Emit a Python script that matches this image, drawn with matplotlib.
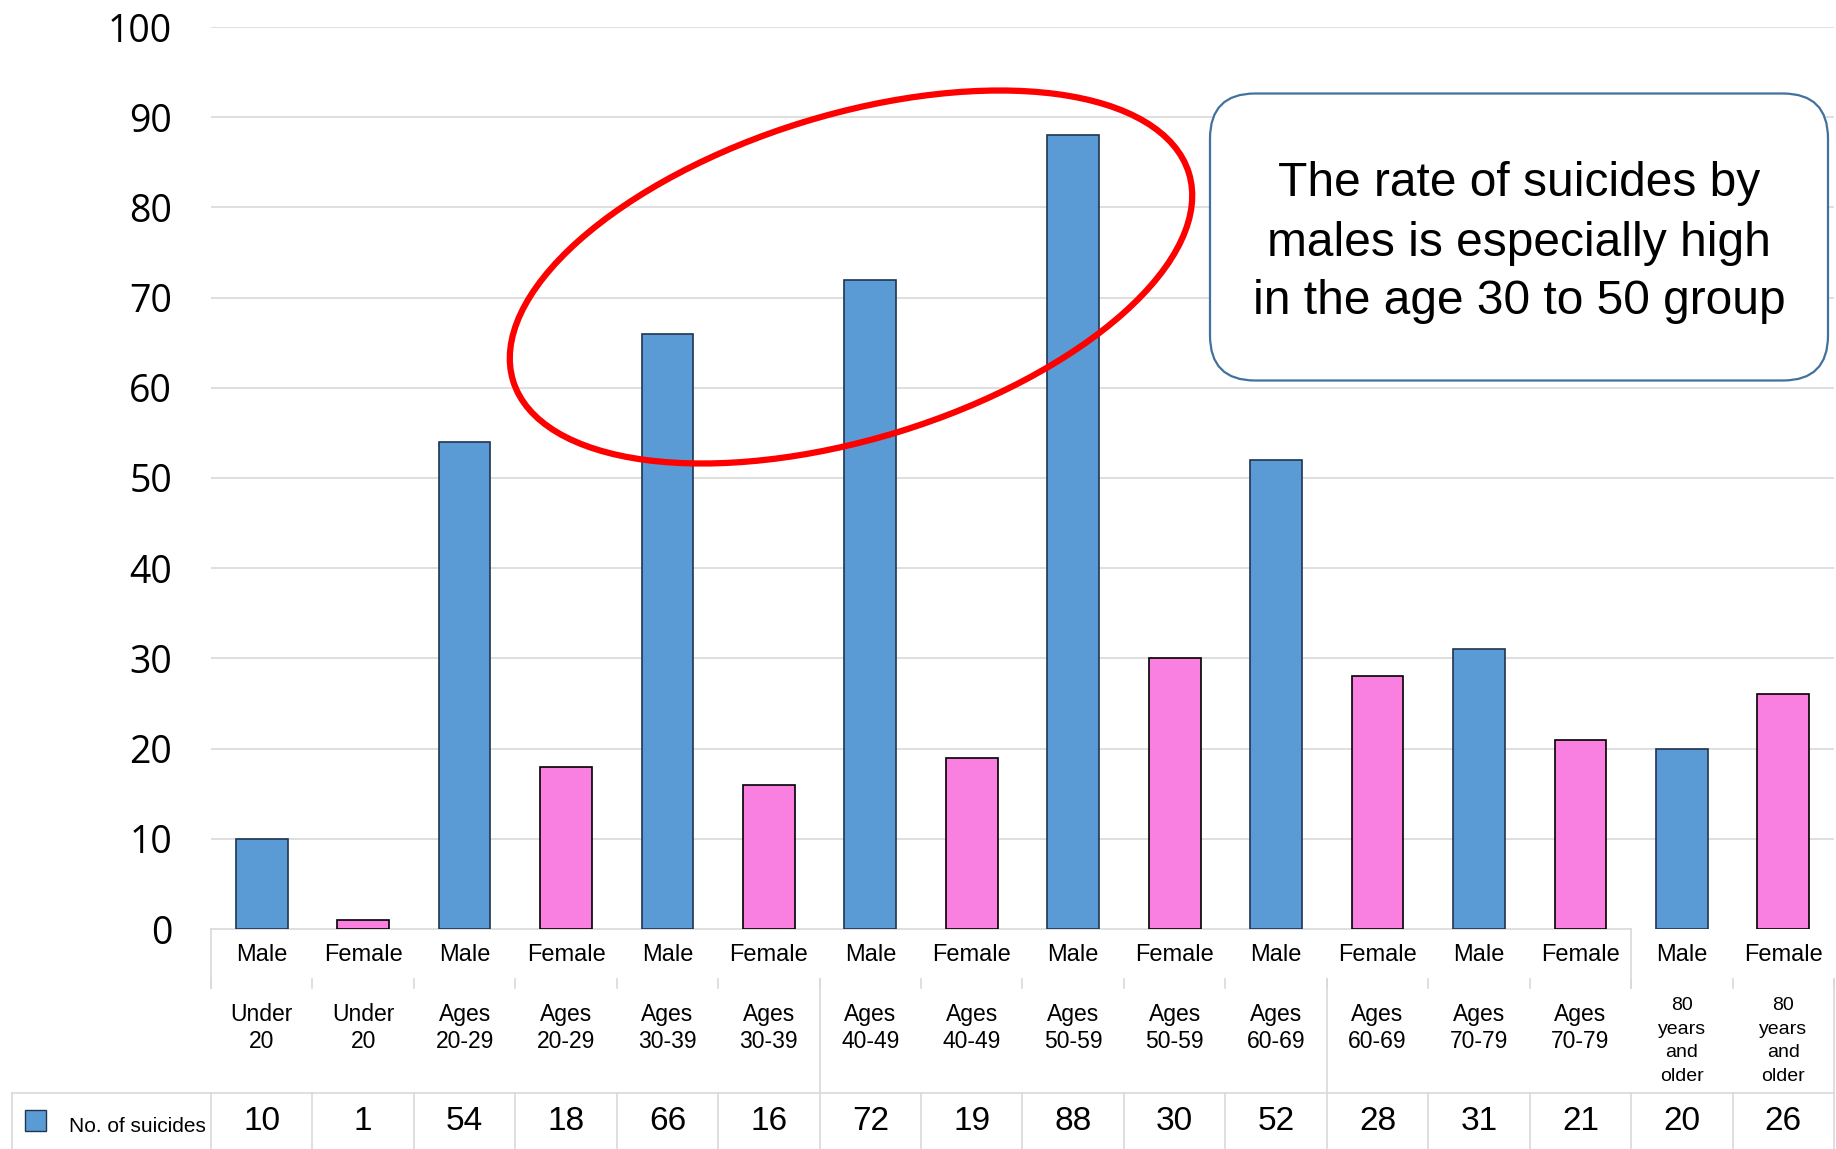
import numpy as np
import matplotlib
matplotlib.use("Agg")
import matplotlib.pyplot as plt
from matplotlib import transforms
from matplotlib.patches import Ellipse, FancyBboxPatch, Rectangle

# data
sexes = ["Male", "Female"] * 8
age_groups = ["Under\n20", "Under\n20", "Ages\n20-29", "Ages\n20-29",
              "Ages\n30-39", "Ages\n30-39", "Ages\n40-49", "Ages\n40-49",
              "Ages\n50-59", "Ages\n50-59", "Ages\n60-69", "Ages\n60-69",
              "Ages\n70-79", "Ages\n70-79", "80\nyears\nand\nolder", "80\nyears\nand\nolder"]
counts = [10, 1, 54, 18, 66, 16, 72, 19, 88, 30, 52, 28, 31, 21, 20, 26]
yticks = list(range(0, 101, 10))
series_name = "No. of suicides"
note = "The rate of suicides by\nmales is especially high\nin the age 30 to 50 group"

BLUE = "#5b9bd5"
PINK = "#f97fe0"
GRID = "#d9d9d9"

W, H = 1836, 1149
plt.rcParams['font.family'] = ['Liberation Sans', 'DejaVu Sans']
fig = plt.figure(figsize=(W / 100, H / 100), dpi=100)

ax = fig.add_axes([211 / W, 1 - 929 / H, 1623 / W, (929 - 27) / H])
x = np.arange(len(counts))
colors = [BLUE if s == "Male" else PINK for s in sexes]
edges = ["#1f3550" if s == "Male" else "black" for s in sexes]
ax.bar(x, counts, width=0.51, color=colors, edgecolor=edges, linewidth=1.2, zorder=3)
ax.set_xlim(-0.5, len(counts) - 0.5)
ax.set_ylim(0, 100)
ax.set_yticks(yticks)
ax.set_xticks([])
ax.yaxis.grid(True, color=GRID, lw=1.2)
ax.set_axisbelow(True)
for s in ["top", "right", "left", "bottom"]:
    ax.spines[s].set_visible(False)
ax.tick_params(axis="y", length=0, pad=28, labelsize=27)
for lbl in ax.get_yticklabels():
    lbl.set_fontfamily(["Open Sans", "DejaVu Sans"])
ax.yaxis.get_gridlines()[0].set_visible(False)
ax.plot([-0.5, 13.5], [0, 0], color=GRID, lw=1.2, clip_on=False, zorder=2)

# overlay in pixel coordinates
ov = fig.add_axes([0, 0, 1, 1], facecolor="none")
ov.set_xlim(0, W)
ov.set_ylim(H, 0)
ov.axis("off")
tb = transforms.blended_transform_factory(ax.transData, ov.transData)

# data table below the plot
for i in range(len(counts)):
    ov.text(x[i], 955, sexes[i], transform=tb, ha="center", va="center", fontsize=17)
    if age_groups[i].count("\n") > 1:
        ov.text(x[i], 1041, age_groups[i], transform=tb, ha="center", va="center",
                fontsize=14, linespacing=1.5)
    else:
        ov.text(x[i], 1028, age_groups[i], transform=tb, ha="center", va="center",
                fontsize=16.5, linespacing=1.2)
    ov.text(x[i], 1122, str(counts[i]), transform=tb, ha="center", va="center", fontsize=24)

bounds = np.arange(len(counts) + 1) - 0.5
for k, b in enumerate(bounds):
    ov.plot([b, b], [1093, H], transform=tb, color=GRID, lw=1.2)
    ov.plot([b, b], [979, 988], transform=tb, color=GRID, lw=1.2)
    if k in (6, 11, 16):
        ov.plot([b, b], [979, 1093], transform=tb, color=GRID, lw=1.2)
    if k in (0, 14):
        ov.plot([b, b], [929, 988], transform=tb, color=GRID, lw=1.2)
ov.plot([bounds[0], bounds[-1]], [1093, 1093], transform=tb, color=GRID, lw=1.2)

# legend cell
ov.plot([12, 211], [1093, 1093], color=GRID, lw=1.2)
ov.plot([12, 12], [1093, H], color=GRID, lw=1.2)
ov.add_patch(Rectangle((25, 1110), 20.5, 21, facecolor=BLUE, edgecolor="#1f3550", lw=1.0))
ov.text(69, 1126, series_name, ha="left", va="center", fontsize=15)

# red ellipse around the 30-50 male bars
ov.add_patch(Ellipse((851, 277), 707, 324, angle=-17.1, fill=False,
                     edgecolor="#ff0000", lw=4.5, zorder=5))

# rounded note box
ov.add_patch(FancyBboxPatch((1210, 93.5), 618, 287,
                            boxstyle="round,pad=0,rounding_size=45",
                            facecolor="white", edgecolor="#41719c", lw=1.6, zorder=4))
ov.text(1519, 243, note, ha="center", va="center", fontsize=34.5, linespacing=1.4, zorder=6)

fig.savefig("out.png", dpi=100)
